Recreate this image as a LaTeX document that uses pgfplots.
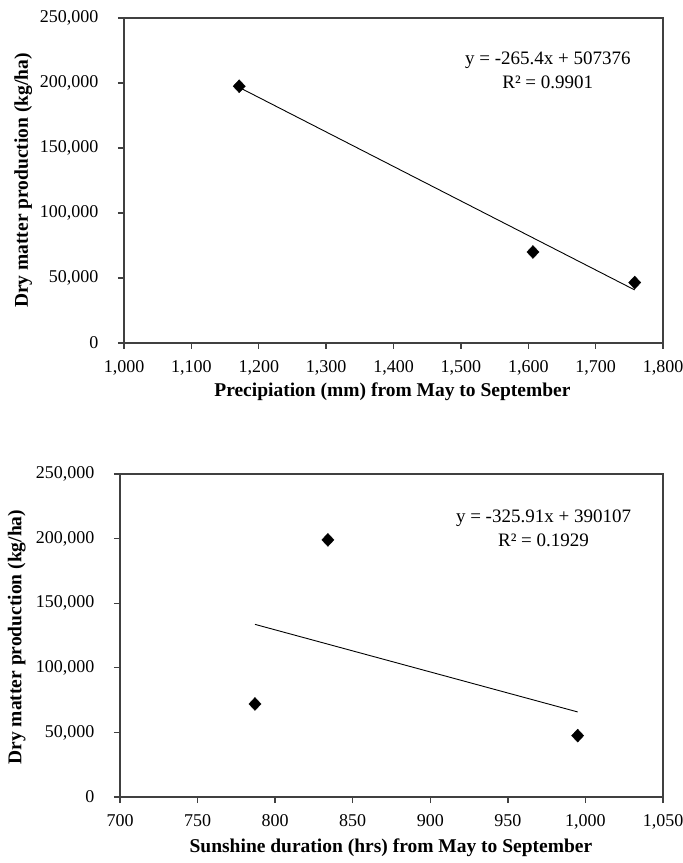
\documentclass[border=0pt]{standalone}
\usepackage{fontspec}
\setmainfont{Liberation Serif}
\usepackage{pgfplots}
\pgfplotsset{compat=1.18}

\pgfplotsset{
  dmstyle/.style={
    scale only axis,
    axis line style={line width=1.3bp, black!75},
    tick style={line width=1.3bp, black!75},
    tick align=outside,
    major tick length=6bp,
    xtick pos=bottom, ytick pos=left,
    ymin=0, ymax=250000, ytick={0,50000,...,250000},
    scaled ticks=false,
    /pgf/number format/.cd, fixed, 1000 sep={,}, assume math mode=true,
    /pgfplots/.cd,
    ticklabel style={font=\fontsize{18bp}{20bp}\selectfont},
    yticklabel style={xshift=-16bp},
    xticklabel style={yshift=-8bp},
    label style={font=\fontsize{19.5bp}{22bp}\selectfont\bfseries},
    ylabel={Dry matter production (kg/ha)},
  }
}

\begin{document}
\begin{tikzpicture}
\useasboundingbox (0,0) rectangle (683bp,863bp);

% upper panel
\begin{axis}[dmstyle,
  at={(124bp,520bp)}, anchor=south west,
  width=539bp, height=325bp,
  xmin=1000, xmax=1800, xtick={1000,1100,...,1800},
  xlabel={Precipiation (mm) from May to September},
  xlabel style={at={(axis description cs:0.498,-0.151)}, anchor=center},
  ylabel style={at={(axis description cs:-0.187,0.5)}, anchor=center},
]
\addplot[only marks, mark=diamond*, mark size=6.5bp, mark options={xscale=1.25, fill=black}] coordinates {
  (1171,197500) (1607,70000) (1758,46500)};
\addplot[black, line width=0.9bp] coordinates {(1171,196593) (1758,40803)};
\node[align=center, font=\fontsize{19bp}{24bp}\selectfont] at (axis cs:1629,210000)
  {y = -265.4x + 507376\\R² = 0.9901};
\end{axis}

% lower panel
\begin{axis}[dmstyle,
  at={(120bp,66bp)}, anchor=south west,
  width=543bp, height=323bp,
  xmin=700, xmax=1050, xtick={700,750,...,1050},
  xlabel={Sunshine duration (hrs) from May to September},
  xlabel style={at={(axis description cs:0.499,-0.158)}, anchor=center},
  ylabel style={at={(axis description cs:-0.19,0.495)}, anchor=center},
]
\addplot[only marks, mark=diamond*, mark size=6.5bp, mark options={xscale=1.25, fill=black}] coordinates {
  (787,72000) (834,199000) (995,47500)};
\addplot[black, line width=0.9bp] coordinates {(787,133616) (995,65827)};
\node[align=center, font=\fontsize{19bp}{24bp}\selectfont] at (axis cs:973,208000)
  {y = -325.91x + 390107\\R² = 0.1929};
\end{axis}
\end{tikzpicture}
\end{document}
